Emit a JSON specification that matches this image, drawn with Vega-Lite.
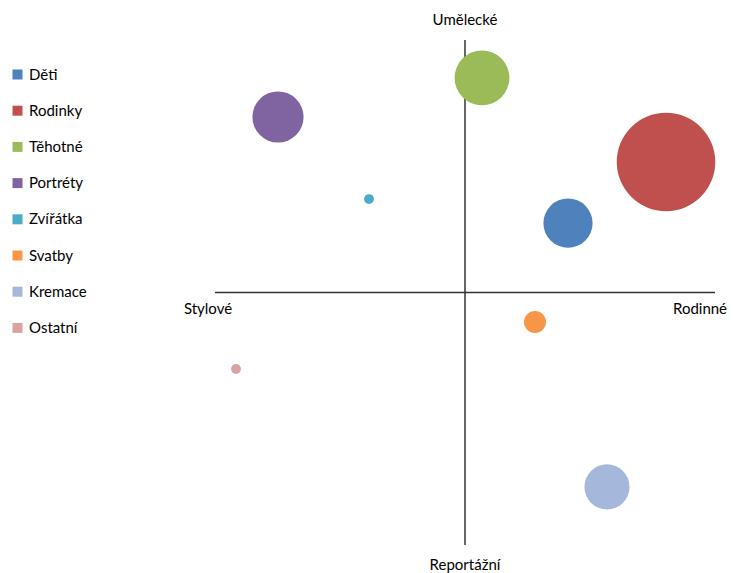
{
  "$schema": "https://vega.github.io/schema/vega-lite/v6.json",
  "autosize": {"type": "none"},
  "padding": {"left": 215, "top": 40, "right": 18, "bottom": 28},
  "width": 500,
  "height": 505,
  "background": "white",
  "config": {"view": {"stroke": null}, "font": "Lato"},
  "layer": [
    {
      "data": {"values": [{"x": 0, "y": -10, "y2": 10}]},
      "mark": {"type": "rule", "color": "#333333", "strokeWidth": 1.5},
      "encoding": {
        "x": {"field": "x", "type": "quantitative", "scale": {"domain": [-10, 10], "nice": false, "zero": false}, "axis": null},
        "y": {"field": "y", "type": "quantitative", "scale": {"domain": [-10, 10], "nice": false, "zero": false}, "axis": null},
        "y2": {"field": "y2"}
      }
    },
    {
      "data": {"values": [{"x": -10, "x2": 10, "y": 0}]},
      "mark": {"type": "rule", "color": "#333333", "strokeWidth": 1.5},
      "encoding": {
        "x": {"field": "x", "type": "quantitative"},
        "x2": {"field": "x2"},
        "y": {"field": "y", "type": "quantitative"}
      }
    },
    {
      "data": {"values": [
        {"kategorie": "Děti", "x": 4.12, "y": 2.75, "velikost": 25},
        {"kategorie": "Rodinky", "x": 8.04, "y": 5.17, "velikost": 100},
        {"kategorie": "Těhotné", "x": 0.68, "y": 8.5, "velikost": 31},
        {"kategorie": "Portréty", "x": -7.48, "y": 6.95, "velikost": 27},
        {"kategorie": "Zvířátka", "x": -3.84, "y": 3.7, "velikost": 1},
        {"kategorie": "Svatby", "x": 2.8, "y": -1.17, "velikost": 5},
        {"kategorie": "Kremace", "x": 5.68, "y": -7.7, "velikost": 21},
        {"kategorie": "Ostatní", "x": -9.16, "y": -3.03, "velikost": 1}
      ]},
      "mark": {"type": "circle", "opacity": 1},
      "encoding": {
        "x": {"field": "x", "type": "quantitative"},
        "y": {"field": "y", "type": "quantitative"},
        "size": {"field": "velikost", "type": "quantitative", "scale": {"type": "linear", "domain": [0, 100], "range": [0, 9700], "zero": true}, "legend": null},
        "color": {
          "field": "kategorie", "type": "nominal",
          "scale": {
            "domain": ["Děti", "Rodinky", "Těhotné", "Portréty", "Zvířátka", "Svatby", "Kremace", "Ostatní"],
            "range": ["#4F81BD", "#C0504D", "#9BBB59", "#8064A2", "#4BACC6", "#F79646", "#A5B8DB", "#D9A2A4"]
          },
          "legend": {
            "title": null,
            "orient": "none",
            "legendX": -205,
            "legendY": 27,
            "symbolType": "square",
            "symbolSize": 100,
            "symbolStrokeWidth": 0,
            "labelFontSize": 15,
            "labelFont": "Lato",
            "labelColor": "#000000",
            "labelOffset": 4,
            "rowPadding": 20.2
          }
        }
      }
    },
    {
      "data": {"values": [
        {"popis": "Umělecké", "x": 0, "y": 10.79},
        {"popis": "Reportážní", "x": 0, "y": -10.79},
        {"popis": "Stylové", "x": -10.28, "y": -0.65},
        {"popis": "Rodinné", "x": 9.4, "y": -0.65}
      ]},
      "mark": {"type": "text", "fontSize": 15, "font": "Lato", "color": "#000000", "align": "center", "baseline": "middle"},
      "encoding": {
        "x": {"field": "x", "type": "quantitative"},
        "y": {"field": "y", "type": "quantitative"},
        "text": {"field": "popis", "type": "nominal"}
      }
    }
  ]
}
